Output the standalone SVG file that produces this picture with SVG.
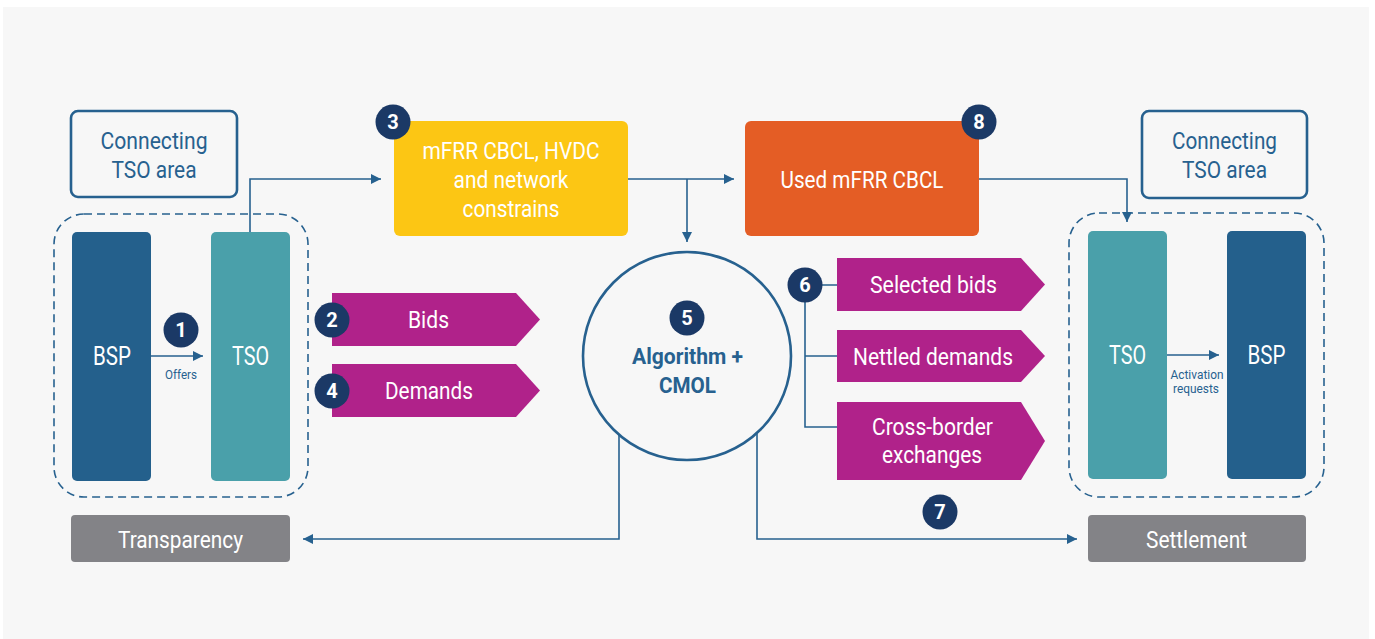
<svg xmlns="http://www.w3.org/2000/svg" width="1375" height="639" viewBox="0 0 1375 639">
<defs>
<marker id="ah" viewBox="0 0 10 10" refX="10" refY="5" markerWidth="10" markerHeight="10" markerUnits="userSpaceOnUse" orient="auto">
<path d="M0,0 L10,5 L0,10 z" fill="#27618f"/>
</marker>
<style>
text{font-family:Roboto,"Liberation Sans",sans-serif;text-anchor:middle}
.lbl{font-size:23px;fill:#fff}
.area{font-size:23px;fill:#27618f}
.small{font-size:12.5px;fill:#27618f}
.num{font-size:20px;font-weight:bold;fill:#fff}
.badge{fill:#1b3966}
.line{fill:none;stroke:#27618f;stroke-width:1.6}
.dash{fill:none;stroke:#27618f;stroke-width:1.6;stroke-dasharray:8 5}
.box{fill:none;stroke:#27618f;stroke-width:2.6}
.bsp{fill:#24608c}
.tso{fill:#4aa0aa}
.grey{fill:#838387}
.purple{fill:#b0228a}
</style>
</defs>
<rect x="0" y="0" width="1375" height="639" fill="#ffffff"/>
<rect x="3" y="7" width="1366" height="632" fill="#f7f7f7"/>

<g id="connectors">
<path class="line" d="M250,232 V179 H381" marker-end="url(#ah)"/>
<path class="line" d="M151,356 H203" marker-end="url(#ah)"/>
<path class="line" d="M628,179 H734" marker-end="url(#ah)"/>
<path class="line" d="M687,179 V242" marker-end="url(#ah)"/>
<path class="line" d="M979,179 H1127 V222" marker-end="url(#ah)"/>
<path class="line" d="M1167,355 H1219" marker-end="url(#ah)"/>
<path class="line" d="M619,435 V539 H303" marker-end="url(#ah)"/>
<path class="line" d="M757,433 V539 H1077" marker-end="url(#ah)"/>
<path class="line" d="M822,285 H837 M805,285 V427 H837 M805,356 H837"/>
</g>

<g id="left-area">
<rect class="box" x="71" y="111" width="166" height="86" rx="7"/>
<text class="area" x="154" y="149" textLength="107" lengthAdjust="spacingAndGlyphs">Connecting</text>
<text class="area" x="154" y="178" textLength="85" lengthAdjust="spacingAndGlyphs">TSO area</text>
</g>
<g id="left-group">
<rect class="dash" x="54" y="214" width="254" height="283" rx="30"/>
</g>
<g id="left-bsp">
<rect class="bsp" x="72" y="232" width="79" height="249" rx="5"/>
<text class="lbl" x="112" y="365" style="font-size:25px" textLength="38" lengthAdjust="spacingAndGlyphs">BSP</text>
</g>
<g id="left-tso">
<rect class="tso" x="211" y="232" width="79" height="249" rx="5"/>
<text class="lbl" x="250.5" y="365" style="font-size:25px" textLength="37" lengthAdjust="spacingAndGlyphs">TSO</text>
</g>
<g id="offers">
<circle class="badge" cx="181" cy="330" r="17.5"/>
<text class="num" x="181" y="337">1</text>
<text class="small" x="181" y="379" textLength="32" lengthAdjust="spacingAndGlyphs">Offers</text>
</g>

<g id="constraints">
<rect x="394" y="121" width="234" height="115" rx="6" fill="#fcc614"/>
<text class="lbl" x="511" y="159" textLength="177" lengthAdjust="spacingAndGlyphs">mFRR CBCL, HVDC</text>
<text class="lbl" x="511" y="188" textLength="115" lengthAdjust="spacingAndGlyphs">and network</text>
<text class="lbl" x="511" y="217" textLength="97" lengthAdjust="spacingAndGlyphs">constrains</text>
<circle class="badge" cx="393" cy="122" r="17.5"/>
<text class="num" x="393" y="129">3</text>
</g>

<g id="used-cbcl">
<rect x="745" y="121" width="234" height="115" rx="6" fill="#e45d25"/>
<text class="lbl" x="862" y="188" textLength="163" lengthAdjust="spacingAndGlyphs">Used mFRR CBCL</text>
<circle class="badge" cx="979" cy="122" r="17.5"/>
<text class="num" x="979" y="129">8</text>
</g>

<g id="bids">
<path class="purple" d="M332,293 H516 L540,319.5 L516,346 H332 z"/>
<text class="lbl" x="428.5" y="328" textLength="41" lengthAdjust="spacingAndGlyphs">Bids</text>
<circle class="badge" cx="332" cy="320" r="17.5"/>
<text class="num" x="332" y="327">2</text>
</g>
<g id="demands">
<path class="purple" d="M332,364 H516 L540,390.5 L516,417 H332 z"/>
<text class="lbl" x="429" y="399" textLength="88" lengthAdjust="spacingAndGlyphs">Demands</text>
<circle class="badge" cx="332" cy="391" r="17.5"/>
<text class="num" x="332" y="398">4</text>
</g>

<g id="algorithm">
<circle cx="687" cy="356" r="104" fill="#f7f7f7" stroke="#27618f" stroke-width="2.6"/>
<circle class="badge" cx="687" cy="318" r="17.5"/>
<text class="num" x="687" y="325">5</text>
<text x="687.5" y="364" style="font-size:22px;font-weight:bold;fill:#27618f" textLength="111" lengthAdjust="spacingAndGlyphs">Algorithm +</text>
<text x="687.5" y="393" style="font-size:22px;font-weight:bold;fill:#27618f" textLength="57" lengthAdjust="spacingAndGlyphs">CMOL</text>
</g>

<g id="selected-bids">
<path class="purple" d="M837,258 H1021 L1045,284.5 L1021,311 H837 z"/>
<text class="lbl" x="933.5" y="293" textLength="127" lengthAdjust="spacingAndGlyphs">Selected bids</text>
</g>
<g id="nettled-demands">
<path class="purple" d="M837,330 H1021 L1045,356 L1021,382 H837 z"/>
<text class="lbl" x="933" y="365" textLength="160" lengthAdjust="spacingAndGlyphs">Nettled demands</text>
</g>
<g id="cross-border">
<path class="purple" d="M837,402 H1021 L1045,441 L1021,480 H837 z"/>
<text class="lbl" x="932.5" y="435" textLength="121" lengthAdjust="spacingAndGlyphs">Cross-border</text>
<text class="lbl" x="932" y="463" textLength="100" lengthAdjust="spacingAndGlyphs">exchanges</text>
</g>
<g id="badge6">
<circle class="badge" cx="805" cy="285" r="17.5"/>
<text class="num" x="805" y="292">6</text>
</g>
<g id="badge7">
<circle class="badge" cx="940" cy="512" r="17.5"/>
<text class="num" x="940" y="519">7</text>
</g>

<g id="right-area">
<rect class="box" x="1142" y="111" width="165" height="87" rx="7"/>
<text class="area" x="1224.5" y="149" textLength="105" lengthAdjust="spacingAndGlyphs">Connecting</text>
<text class="area" x="1224.5" y="178" textLength="85" lengthAdjust="spacingAndGlyphs">TSO area</text>
</g>
<g id="right-group">
<rect class="dash" x="1069" y="213" width="255" height="284" rx="30"/>
</g>
<g id="right-tso">
<rect class="tso" x="1088" y="231" width="79" height="248" rx="5"/>
<text class="lbl" x="1127.5" y="364" style="font-size:25px" textLength="37" lengthAdjust="spacingAndGlyphs">TSO</text>
</g>
<g id="right-bsp">
<rect class="bsp" x="1227" y="231" width="79" height="248" rx="5"/>
<text class="lbl" x="1266.5" y="364" style="font-size:25px" textLength="38" lengthAdjust="spacingAndGlyphs">BSP</text>
</g>
<g id="activation">
<text class="small" x="1197" y="379" style="font-size:12.5px" textLength="53" lengthAdjust="spacingAndGlyphs">Activation</text>
<text class="small" x="1196" y="393" style="font-size:12.5px" textLength="46" lengthAdjust="spacingAndGlyphs">requests</text>
</g>

<g id="transparency">
<rect class="grey" x="71" y="515" width="219" height="47" rx="4"/>
<text class="lbl" x="180.5" y="548" textLength="125" lengthAdjust="spacingAndGlyphs">Transparency</text>
</g>
<g id="settlement">
<rect class="grey" x="1088" y="515" width="218" height="47" rx="4"/>
<text class="lbl" x="1196.5" y="548" textLength="101" lengthAdjust="spacingAndGlyphs">Settlement</text>
</g>
</svg>
